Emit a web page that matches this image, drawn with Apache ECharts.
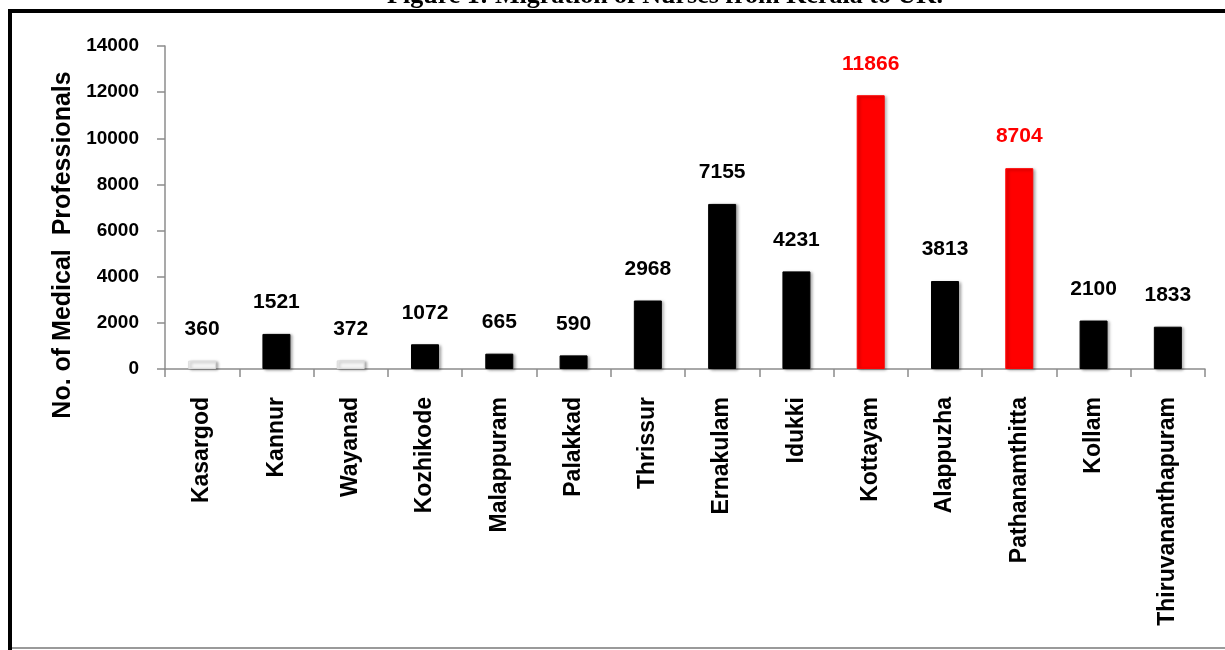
<!DOCTYPE html>
<html>
<head>
<meta charset="utf-8">
<script src="https://cdn.jsdelivr.net/npm/echarts@6/dist/echarts.min.js"></script>
<style>
  html, body { margin: 0; padding: 0; background: #fff; }
  #chart { width: 1225px; height: 650px; }
</style>
</head>
<body>
<div id="chart"></div>
<script>
// data
const districts = ['Kasargod', 'Kannur', 'Wayanad', 'Kozhikode', 'Malappuram', 'Palakkad', 'Thrissur',
    'Ernakulam', 'Idukki', 'Kottayam', 'Alappuzha', 'Pathanamthitta', 'Kollam', 'Thiruvananthapuram']
const professionals = [360, 1521, 372, 1072, 665, 590, 2968, 7155, 4231, 11866, 3813, 8704, 2100, 1833]
const yTicks = [0, 2000, 4000, 6000, 8000, 10000, 12000, 14000]

const sans = '"Liberation Sans", Arial, sans-serif'

// which bars are highlighted / almost blank in the figure
const redBars = ['Kottayam', 'Pathanamthitta']
const paleBars = ['Kasargod', 'Wayanad']

const chart = echarts.init(document.getElementById('chart'))

const barData = professionals.map(function (v, i) {
    const name = districts[i]
    let fill = '#000'
    let border = '#000'
    let labelColor = '#000'
    if (redBars.indexOf(name) >= 0) { fill = '#ff0000'; border = '#ff0000'; labelColor = '#ff0000' }
    if (paleBars.indexOf(name) >= 0) { fill = '#f6f6f6'; border = '#dcdcdc' }
    return {
        value: v,
        itemStyle: { color: fill, borderColor: border, borderWidth: 1 },
        label: { color: labelColor }
    }
})

const option = {
    animation: false,
    grid: { left: 165, right: 20, top: 46, bottom: 281, containLabel: false, outerBoundsMode: 'none' },
    xAxis: {
        type: 'category',
        data: districts,
        boundaryGap: true,
        axisLine: { lineStyle: { color: '#8c8c8c', width: 1.5 } },
        axisTick: { show: true, length: 8, lineStyle: { color: '#8c8c8c', width: 1.5 } },
        axisLabel: {
            interval: 0,
            rotate: 90,
            margin: 28,
            color: '#000',
            fontFamily: sans,
            fontWeight: 'bold',
            fontSize: 23
        }
    },
    yAxis: {
        type: 'value',
        min: yTicks[0],
        max: yTicks[yTicks.length - 1],
        interval: 2000,
        axisLine: { show: true, lineStyle: { color: '#8c8c8c', width: 1.5 } },
        axisTick: { show: true, length: 8, lineStyle: { color: '#8c8c8c', width: 1.5 } },
        splitLine: { show: false },
        axisLabel: {
            margin: 26,
            color: '#000',
            fontFamily: sans,
            fontWeight: 'bold',
            fontSize: 19,
            formatter: function (v) { return String(v) }
        }
    },
    series: [{
        type: 'bar',
        data: barData,
        barWidth: 28,
        itemStyle: {
            shadowColor: 'rgba(0,0,0,0.35)',
            shadowBlur: 3,
            shadowOffsetX: 2,
            shadowOffsetY: 1
        },
        label: {
            show: true,
            position: 'top',
            distance: 21,
            fontFamily: sans,
            fontWeight: 'bold',
            fontSize: 21
        }
    }],
    graphic: [
        { // figure caption, cut off at the top of the picture
            type: 'text',
            x: 665,
            y: 9,
            style: {
                text: 'Figure 1: Migration of Nurses from Kerala to UK.',
                fill: '#000',
                fontFamily: '"Liberation Serif", "Times New Roman", serif',
                fontWeight: 'bold',
                fontSize: 26,
                align: 'center',
                verticalAlign: 'bottom'
            }
        },
        { // y axis name
            type: 'text',
            x: 63,
            y: 245,
            rotation: Math.PI / 2,
            style: {
                text: 'No. of Medical  Professionals',
                fill: '#000',
                fontFamily: sans,
                fontWeight: 'bold',
                fontSize: 25,
                align: 'center',
                verticalAlign: 'middle'
            }
        },
        // page box
        { type: 'rect', shape: { x: 8, y: 9, width: 1217, height: 4 }, style: { fill: '#000' } },
        { type: 'rect', shape: { x: 8, y: 9, width: 4, height: 641 }, style: { fill: '#000' } },
        { type: 'rect', shape: { x: 12, y: 647, width: 1213, height: 2 }, style: { fill: '#9a9a9a' } }
    ]
}

chart.setOption(option)

window.addEventListener('resize', function () {
    chart.resize()
})
</script>
</body>
</html>
